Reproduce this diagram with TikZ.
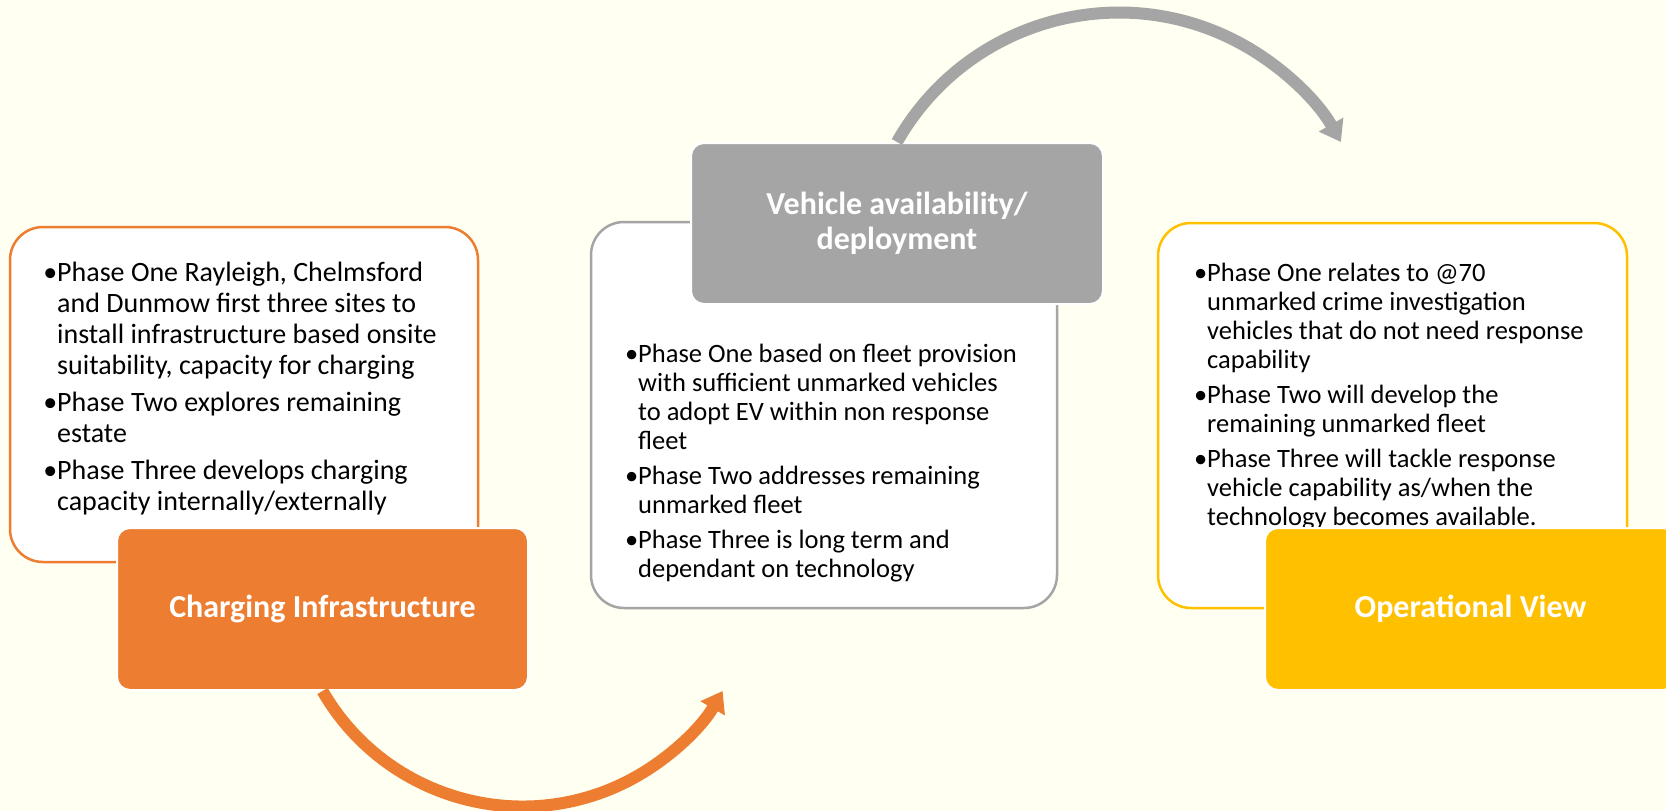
\documentclass[tikz,border=0pt]{standalone}
\usepackage{fontspec}
\setmainfont{Carlito}
\usepackage{tikz}
\usetikzlibrary{arrows.meta, positioning}
\definecolor{chargeorange}{HTML}{ED7D31}
\definecolor{fleetgrey}{HTML}{A5A5A5}
\definecolor{opsgold}{HTML}{FFC000}
\definecolor{pagecream}{HTML}{FFFFF2}

\begin{document}
\begin{tikzpicture}[
  x=1pt, y=-1pt,
  panel/.style={rectangle, rounded corners=33pt, draw, line width=2.5pt, fill=white, minimum width=468pt, minimum height=386pt, inner sep=0pt},
  heading/.style={rectangle, rounded corners=13pt, draw=white, line width=2pt, minimum width=411pt, minimum height=162pt, text=white, font=\fontsize{32}{35}\selectfont\bfseries, align=center},
  bullets/.style={anchor=north west, inner sep=0pt, align=left, text=black},
  arcarrow/.style={line width=12pt, -{Triangle[length=20pt, width=27pt]}}
]
  \useasboundingbox (0,0) rectangle (1666,811);
  \clip (0,0) rectangle (1666,811);
  \fill[pagecream] (0,0) rectangle (1666,811);

  % Charging
  \node[panel, draw=chargeorange, minimum height=335pt] (chgbox) at (244,394.5) {};
  \node[bullets, font=\fontsize{28}{31}\selectfont] (chgtext) at (57,259.3) {\strut\llap{\textbullet}Phase One Rayleigh, Chelmsford\\
    and Dunmow first three sites to\\
    install infrastructure based onsite\\
    suitability, capacity for charging\\[6pt]
    \llap{\textbullet}Phase Two explores remaining\\
    estate\\[6pt]
    \llap{\textbullet}Phase Three develops charging\\
    capacity internally/externally};
  \node[heading, fill=chargeorange] (chgtitle) at (322.5,609) {Charging Infrastructure};

  % Vehicles
  \node[panel, draw=fleetgrey, minimum width=466pt] (vehbox) at (824,415) {};
  \node[bullets, font=\fontsize{26.5}{29}\selectfont] (vehtext) at (638,341.7) {\strut\llap{\textbullet}Phase One based on fleet provision\\
    with sufficient unmarked vehicles\\
    to adopt EV within non response\\
    fleet\\[6pt]
    \llap{\textbullet}Phase Two addresses remaining\\
    unmarked fleet\\[6pt]
    \llap{\textbullet}Phase Three is long term and\\
    dependant on technology};
  \node[heading, fill=fleetgrey, minimum width=412pt, minimum height=161pt] (vehtitle) at (897,223.5) {Vehicle availability/\\deployment};

  % Operations
  \node[panel, draw=opsgold, minimum width=469pt, minimum height=385pt] (opbox) at (1392.5,415.5) {};
  \node[bullets, font=\fontsize{26.5}{29}\selectfont] (optext) at (1207,260.7) {\strut\llap{\textbullet}Phase One relates to @70\\
    unmarked crime investigation\\
    vehicles that do not need response\\
    capability\\[6pt]
    \llap{\textbullet}Phase Two will develop the\\
    remaining unmarked fleet\\[6pt]
    \llap{\textbullet}Phase Three will tackle response\\
    vehicle capability as/when the\\
    technology becomes available.};
  \node[heading, fill=opsgold] (optitle) at (1470.5,609) {Operational View};

  % Arrows
  \draw[arcarrow, chargeorange] (chgtitle.south) arc[start angle=150, end angle=30, radius=231];
  \draw[arcarrow, fleetgrey] (vehtitle.north) arc[start angle=209.5, end angle=330.5, radius=255];
\end{tikzpicture}
\end{document}
